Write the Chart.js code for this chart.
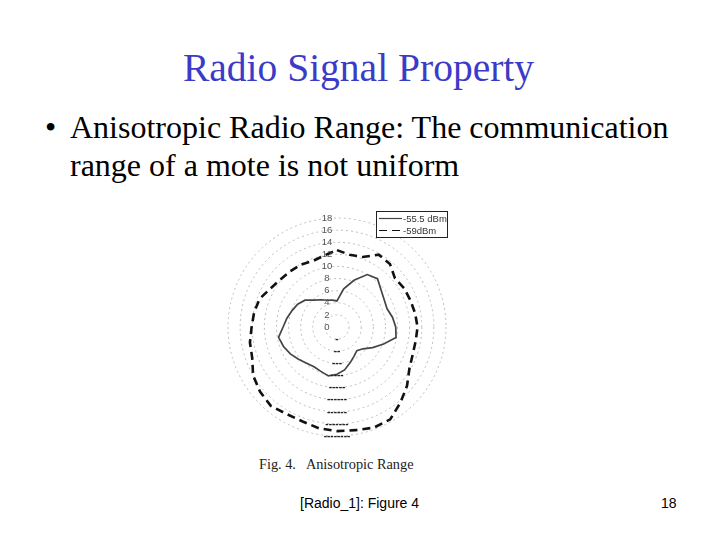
<!DOCTYPE html>
<html>
<head>
<meta charset="utf-8">
<script src="https://cdn.jsdelivr.net/npm/chart.js@4"></script>
<style>
  body { margin: 0; background: #fff; }
  #slide { position: relative; width: 720px; height: 540px; overflow: hidden; background: #fff; }
  .title { position: absolute; left: 0; width: 717px; top: 45px; text-align: center;
           font-family: "Liberation Serif", serif; font-size: 39.5px; color: #3b3bc8; }
  .bullet { position: absolute; left: 45px; top: 108px; font-family: "Liberation Serif", serif;
            font-size: 32px; color: #000; line-height: 38px; }
  .bullet .dot { position: absolute; left: 0; top: 0; }
  .bullet .txt { margin-left: 25px; }
  .caption { position: absolute; left: 259px; top: 456px; font-family: "Liberation Serif", serif;
             font-size: 14.3px; color: #222; white-space: pre; }
  .foot { position: absolute; top: 495px; font-family: "Liberation Sans", sans-serif; font-size: 14px; color: #000; }
  #wrap { position: absolute; left: 220px; top: 200px; width: 240px; height: 250px; }
</style>
</head>
<body>
<div id="slide">
  <div class="title">Radio Signal Property</div>
  <div class="bullet"><span class="dot">•</span><div class="txt">Anisotropic Radio Range: The communication<br>range of a mote is not uniform</div></div>
  <div id="wrap"><canvas id="radar" width="240" height="250"></canvas></div>
  <div class="caption">Fig. 4.   Anisotropic Range</div>
  <div class="foot" style="left:300px;">[Radio_1]: Figure 4</div>
  <div class="foot" style="left:661px;">18</div>
</div>
<script>
// directions, clockwise from the top, every 10 degrees
var directions = [0,10,20,30,40,50,60,70,80,90,100,110,120,130,140,150,160,170,
                  180,190,200,210,220,230,240,250,260,270,280,290,300,310,320,330,340,350];

// range
var range55 = [4.3,6.4,8.2,10.0,10.4,9.5,9.0,8.8,9.3,9.7,9.9,8.2,6.8,5.6,5.1,5.6,6.3,7.2,
               7.8,8.2,7.8,7.6,7.8,8.3,8.9,9.4,9.8,8.9,8.4,7.9,7.5,6.9,5.8,5.2,4.7,4.5];
var range59 = [12.7,12.1,12.3,13.8,13.6,12.5,12.8,12.9,13.1,13.3,13.2,13.3,13.8,15.1,16.3,17.6,17.7,17.3,
               17.2,17.0,16.6,16.6,17.0,16.6,16.0,14.9,14.6,14.1,13.9,13.6,12.7,12.2,12.0,11.9,11.6,12.0];

var seriesNames = ['-55.5 dBm', '-59dBm'];

var tickValues = [0,2,4,6,8,10,12,14,16,18];
var tickLabels = ['0','2','4','6','8','10','12','14','16','18'];
var lowerValues = [2,4,6,8,10,12,14,16,18];
var lowerLabels = ['-','--','---','----','-----','------','------','-------','--------'];

// tick labels along the vertical axis + legend box
var figureDecor = {
  id: 'figureDecor',
  afterDatasetsDraw: function(chart) {
    var ctx = chart.ctx;
    var r = chart.scales.r;
    ctx.save();
    ctx.font = '9.5px "Liberation Sans", sans-serif';
    ctx.fillStyle = '#555';
    ctx.textAlign = 'center';
    ctx.textBaseline = 'middle';
    for (var i = 0; i < tickValues.length; i++) {
      var d = r.getDistanceFromCenterForValue(tickValues[i]);
      ctx.fillText(tickLabels[i], r.xCenter - 10, r.yCenter - d);
    }
    ctx.font = 'bold 10px "Liberation Sans", sans-serif';
    ctx.fillStyle = '#222';
    for (var j = 0; j < lowerValues.length; j++) {
      var d2 = r.getDistanceFromCenterForValue(lowerValues[j]);
      ctx.fillText(lowerLabels[j], r.xCenter, r.yCenter + d2);
    }

    // legend
    var bx = 156, by = 11, bw = 71, bh = 26;
    ctx.fillStyle = '#fff';
    ctx.fillRect(bx, by, bw, bh);
    ctx.strokeStyle = '#222';
    ctx.lineWidth = 1;
    ctx.strokeRect(bx + 0.5, by + 0.5, bw, bh);
    ctx.textAlign = 'left';
    ctx.font = '9.5px "Liberation Sans", sans-serif';
    chart.data.datasets.forEach(function(ds, k) {
      var y = by + 7 + k * 12;
      ctx.beginPath();
      ctx.strokeStyle = ds.borderColor;
      ctx.lineWidth = 1.2;
      ctx.setLineDash(ds.borderDash || []);
      ctx.moveTo(bx + 3, y + 0.5);
      ctx.lineTo(bx + 26, y + 0.5);
      ctx.stroke();
      ctx.setLineDash([]);
      ctx.fillStyle = '#333';
      ctx.fillText(ds.label, bx + 27, y + 1);
    });
    ctx.restore();
  }
};

var chart = new Chart(document.getElementById('radar'), {
  type: 'radar',
  data: {
    labels: directions,
    datasets: [
      {
        label: seriesNames[0],
        data: range55,
        borderColor: '#444',
        borderWidth: 1.7,
        pointRadius: 0,
        fill: false,
        tension: 0
      },
      {
        label: seriesNames[1],
        data: range59,
        borderColor: '#111',
        borderWidth: 2.6,
        borderDash: [8, 5],
        pointRadius: 0,
        fill: false,
        tension: 0
      }
    ]
  },
  options: {
    responsive: false,
    animation: false,
    layout: { padding: { left: 8, top: 18, right: 14, bottom: 14 } },
    plugins: { legend: { display: false }, tooltip: { enabled: false } },
    scales: {
      r: {
        min: 0,
        max: 18,
        startAngle: 0,
        ticks: { display: false, stepSize: 2 },
        pointLabels: { display: false },
        angleLines: { display: false },
        grid: { circular: true, color: '#bdbdbd', lineWidth: 1 },
        border: { dash: [2, 3] }
      }
    }
  },
  plugins: [figureDecor]
});
</script>
</body>
</html>
